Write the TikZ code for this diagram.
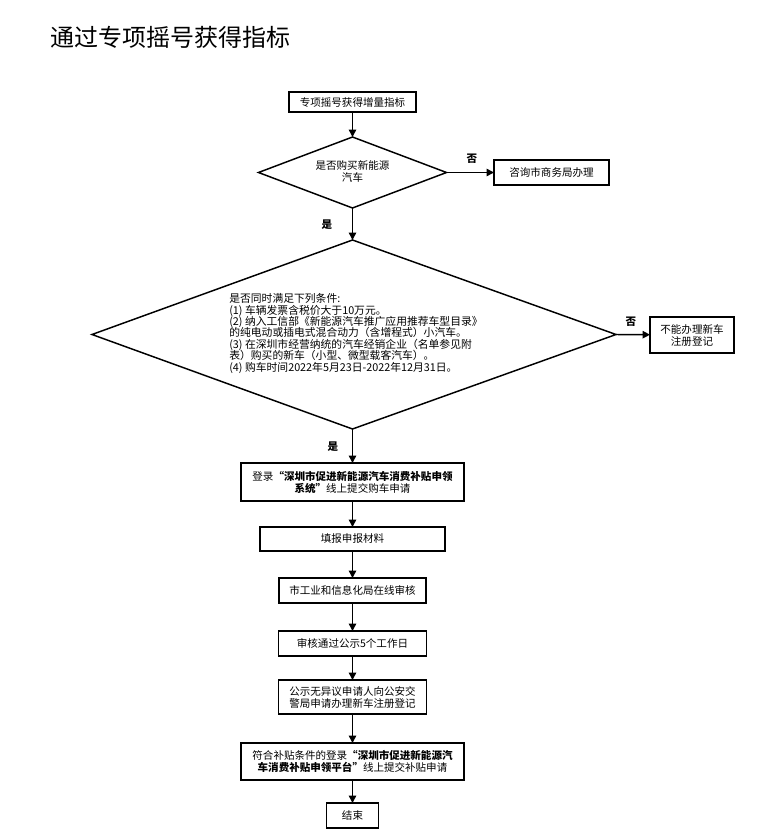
\documentclass[tikz,border=0pt]{standalone}
\usepackage{fontspec}
\setmainfont{Noto Sans CJK SC}
\usetikzlibrary{arrows.meta}
\begin{document}
\begin{tikzpicture}[x=0.75pt,y=-0.75pt,
  box/.style={draw,line width=1.1pt,inner sep=1pt,outer sep=0pt,align=center,
    font=\fontsize{7.9pt}{9pt}\selectfont},
  diaborder/.style={draw,line width=1.1pt,line join=miter},
  arr/.style={line width=1.1pt,-{Triangle[length=5.5pt,width=5.5pt]}},
  lab/.style={font=\fontsize{7.9pt}{9pt}\selectfont\bfseries}]
\useasboundingbox (0,0) rectangle (766,838);
\node[anchor=west,font=\fontsize{18pt}{20pt}\selectfont] (title) at (46,37) {通过专项摇号获得指标};

\node[box,minimum width=95.25pt,minimum height=15pt] (b1) at (352.5,102) {专项摇号获得增量指标};

% diamond 1
\coordinate (d1n) at (352.5,137);
\coordinate (d1s) at (352.5,208);
\coordinate (d1w) at (258.5,172.5);
\coordinate (d1e) at (446.5,172.5);
\draw[diaborder] (d1n) -- (d1e) -- (d1s) -- (d1w) -- cycle;
\node[align=center,font=\fontsize{7.9pt}{9pt}\selectfont] (d1) at (352.5,171.5) {是否购买新能源\\汽车};

\node[box,minimum width=86.25pt,minimum height=18.75pt] (c1) at (551.5,172.5) {咨询市商务局办理};

% diamond 2
\coordinate (d2n) at (352.5,240);
\coordinate (d2s) at (352.5,429);
\coordinate (d2w) at (92,334.5);
\coordinate (d2e) at (616,334.5);
\draw[diaborder] (d2n) -- (d2e) -- (d2s) -- (d2w) -- cycle;
\node[align=left,inner sep=0pt,font=\fontsize{8.1pt}{8.6pt}\selectfont] (d2) at (356,333.5) {是否同时满足下列条件:\\
(1) 车辆发票含税价大于10万元。\\
(2) 纳入工信部《新能源汽车推广应用推荐车型目录》\\
的纯电动或插电式混合动力（含增程式）小汽车。\\
(3) 在深圳市经营纳统的汽车经销企业（名单参见附\\
表）购买的新车（小型、微型载客汽车）。\\
(4) 购车时间2022年5月23日-2022年12月31日。};

\node[box,minimum width=63pt,minimum height=27pt] (c2) at (692,335) {不能办理新车\\注册登记};
\node[box,minimum width=167.25pt,minimum height=28.5pt] (b3) at (352.5,482) {登录\textbf{“深圳市促进新能源汽车消费补贴申领}\\\textbf{系统”}线上提交购车申请};
\node[box,minimum width=138.75pt,minimum height=18pt] (b4) at (352.5,539) {填报申报材料};
\node[box,minimum width=110.25pt,minimum height=18.75pt] (b5) at (352.5,590.5) {市工业和信息化局在线审核};
\node[box,minimum width=111pt,minimum height=18.75pt] (b6) at (352.5,643.5) {审核通过公示5个工作日};
\node[box,minimum width=111pt,minimum height=25.5pt] (b7) at (352.5,697) {公示无异议申请人向公安交\\警局申请办理新车注册登记};
\node[box,minimum width=167.25pt,minimum height=27.75pt] (b8) at (352.5,761.5) {符合补贴条件的登录\textbf{“深圳市促进新能源汽}\\\textbf{车消费补贴申领平台”}线上提交补贴申请};
\node[box,minimum width=39pt,minimum height=18.75pt] (b9) at (352.5,815.5) {结束};

\draw[arr] (b1) -- (d1n);
\draw[arr] (d1e) -- (c1);
\draw[arr] (d1s) -- (d2n);
\draw[arr] (d2e) -- (c2);
\draw[arr] (d2s) -- (b3);
\draw[arr] (b3) -- (b4);
\draw[arr] (b4) -- (b5);
\draw[arr] (b5) -- (b6);
\draw[arr] (b6) -- (b7);
\draw[arr] (b7) -- (b8);
\draw[arr] (b8) -- (b9);

\node[lab] (l1) at (472,159) {否};
\node[lab] (l2) at (327,225) {是};
\node[lab] (l3) at (631,322) {否};
\node[lab] (l4) at (333,447) {是};
\end{tikzpicture}
\end{document}
